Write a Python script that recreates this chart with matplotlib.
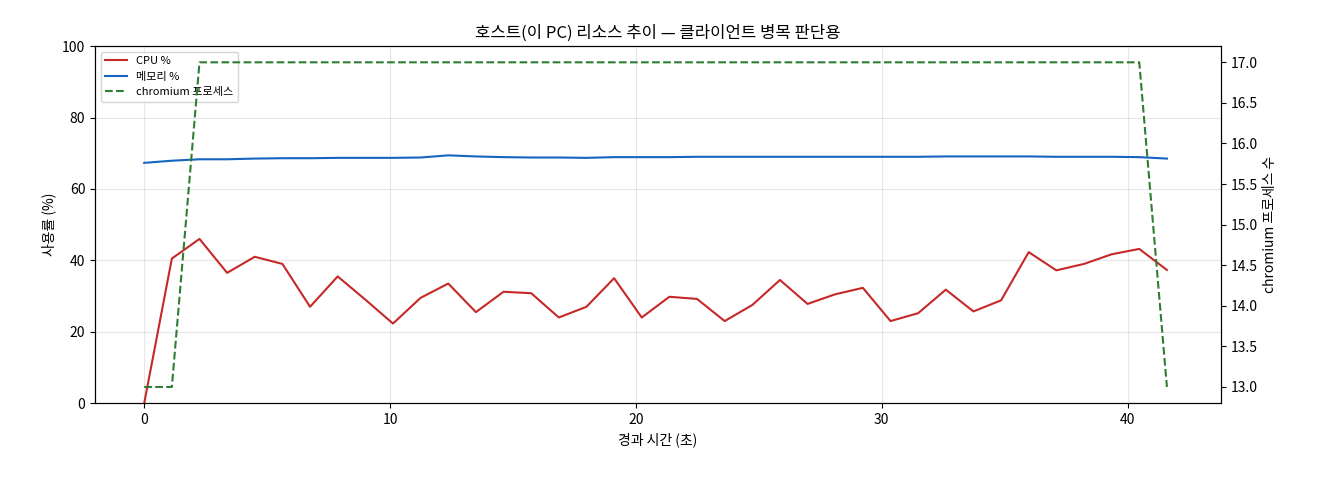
import matplotlib
matplotlib.use("Agg")
import matplotlib.pyplot as plt
import numpy as np

plt.rcParams['font.family'] = ['Noto Sans CJK KR', 'DejaVu Sans']

cpu = [0, 40.5, 46, 36.5, 41, 39, 27, 35.5, 29, 22.3, 29.5, 33.5, 25.5, 31.2, 30.8, 24,
       27, 35, 24, 29.8, 29.2, 23, 27.5, 34.5, 27.8, 30.5, 32.3, 23, 25.2, 31.8, 25.7,
       28.8, 42.3, 37.2, 39, 41.7, 43.2, 37.3]
mem = [67.3, 67.9, 68.3, 68.3, 68.5, 68.6, 68.6, 68.7, 68.7, 68.7, 68.8, 69.4, 69.1, 68.9,
       68.8, 68.8, 68.7, 68.9, 68.9, 68.9, 69.0, 69.0, 69.0, 69.0, 69.0, 69.0, 69.0, 69.0,
       69.0, 69.1, 69.1, 69.1, 69.1, 69.0, 69.0, 69.0, 68.9, 68.5]
procs = [13, 13] + [17] * 34 + [17, 13]
elapsed = list(np.linspace(0, 41.6, len(cpu)))

fig, ax = plt.subplots(figsize=(13.2, 4.8), dpi=100)
l1, = ax.plot(elapsed, cpu, color='#c62828', lw=1.5, label='CPU %')
l2, = ax.plot(elapsed, mem, color='#1565c0', lw=1.5, label='메모리 %')
ax.set_ylim(0, 100)
ax.set_xlim(-2, 43.8)
ax.set_xlabel('경과 시간 (초)')
ax.set_ylabel('사용률 (%)')
ax.grid(alpha=0.3)
ax2 = ax.twinx()
l3, = ax2.plot(elapsed, procs, color='#2e7d32', lw=1.5, ls='--', label='chromium 프로세스')
ax2.set_ylim(12.8, 17.2)
ax2.set_ylabel('chromium 프로세스 수')
ax.legend(handles=[l1, l2, l3], loc='upper left', fontsize=8)
ax.set_title('호스트(이 PC) 리소스 추이 — 클라이언트 병목 판단용', fontsize=12)
fig.subplots_adjust(left=0.072, right=0.925, top=0.904, bottom=0.16)
fig.savefig('out.png')
